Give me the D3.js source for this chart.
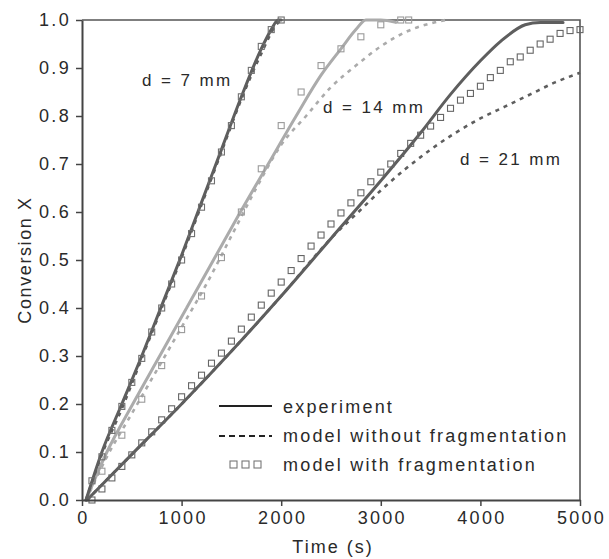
<!DOCTYPE html>
<html>
<head>
<meta charset="utf-8">
<script src="https://cdn.jsdelivr.net/npm/d3@7"></script>
<style>
  body { margin: 0; background: #fff; }
  text { font-family: "Liberation Sans", Arial, sans-serif; fill: #2a2a2a; }
</style>
</head>
<body>
<svg id="chart"></svg>
<script>
// tick labels
const xTicks = [0, 1000, 2000, 3000, 4000, 5000];
const yTicks = [0, 0.1, 0.2, 0.3, 0.4, 0.5, 0.6, 0.7, 0.8, 0.9, 1.0];

// experiment (solid lines), [time s, conversion X]
const exp7 = [[40,0],[200,0.1],[400,0.2],[600,0.3],[800,0.405],[1000,0.51],[1200,0.62],[1400,0.73],[1600,0.84],[1800,0.94],[1900,0.98],[1970,1.0],[2000,1.0]];
const exp14 = [[40,0],[250,0.1],[510,0.2],[780,0.3],[1050,0.4],[1320,0.5],[1590,0.6],[1870,0.7],[2150,0.8],[2400,0.885],[2600,0.94],[2750,0.98],[2850,1.0],[3000,1.0],[3150,0.995]];
const exp21 = [[50,0],[500,0.095],[1000,0.2],[1500,0.31],[2000,0.425],[2500,0.545],[3000,0.665],[3400,0.765],[3700,0.845],[4000,0.915],[4200,0.955],[4450,0.99],[4600,0.995],[4830,0.995]];

// model without fragmentation (dashed lines)
const noFrag7 = [[40,0],[200,0.095],[400,0.19],[600,0.295],[800,0.4],[1000,0.505],[1200,0.615],[1400,0.725],[1600,0.835],[1800,0.93],[1950,0.99],[2000,1.0]];
const noFrag14 = [[40,0],[250,0.09],[500,0.18],[750,0.27],[1000,0.36],[1250,0.45],[1500,0.55],[1750,0.65],[2000,0.74],[2250,0.8],[2500,0.86],[2750,0.905],[3000,0.945],[3250,0.975],[3500,0.993],[3650,1.0]];
const noFrag21 = [[50,0],[500,0.095],[1000,0.2],[1500,0.31],[2000,0.425],[2500,0.545],[2800,0.605],[3000,0.645],[3250,0.69],[3500,0.73],[3750,0.765],[4000,0.795],[4250,0.82],[4500,0.845],[4750,0.87],[5000,0.89]];

// model with fragmentation (square markers)
const frag7 = [[100,0.04],[200,0.09],[300,0.145],[400,0.195],[500,0.245],[600,0.295],[700,0.35],[800,0.4],[900,0.45],[1000,0.5],[1100,0.555],[1200,0.61],[1300,0.665],[1400,0.725],[1500,0.78],[1600,0.84],[1700,0.895],[1800,0.945],[1900,0.98],[2000,1.0]];
const frag14 = [[200,0.06],[400,0.135],[600,0.21],[800,0.28],[1000,0.355],[1200,0.425],[1400,0.505],[1600,0.6],[1800,0.69],[2000,0.78],[2200,0.85],[2400,0.905],[2600,0.94],[2800,0.965],[3000,0.99],[3200,1.0],[3280,1.0]];
const frag21 = [[100,0],[200,0.023],[300,0.046],[400,0.07],[500,0.094],[600,0.119],[700,0.142],[800,0.167],[900,0.19],[1000,0.215],[1100,0.238],[1200,0.26],[1300,0.285],[1400,0.306],[1500,0.331],[1600,0.356],[1700,0.381],[1800,0.406],[1900,0.431],[2000,0.454],[2100,0.478],[2200,0.503],[2300,0.529],[2400,0.552],[2500,0.575],[2600,0.598],[2700,0.619],[2800,0.64],[2900,0.663],[3000,0.683],[3100,0.7],[3200,0.722],[3300,0.743],[3400,0.76],[3500,0.779],[3600,0.797],[3700,0.816],[3800,0.833],[3900,0.847],[4000,0.862],[4100,0.88],[4200,0.895],[4300,0.913],[4400,0.923],[4500,0.937],[4600,0.95],[4700,0.96],[4800,0.972],[4900,0.978],[5000,0.98]];

const dark = "#5e5e5e";
const light = "#ababab";

const width = 609;
const height = 559;
const plotLeft = 82, plotRight = 580, plotTop = 20, plotBottom = 500;

const svg = d3.select("#chart").attr("width", width).attr("height", height);

const xScale = d3.scaleLinear().domain([0, 5000]).range([plotLeft, plotRight]);
const yScale = d3.scaleLinear().domain([0, 1]).range([plotBottom, plotTop]);

//Frame: top and right edges
svg.append("path")
    .attr("d", `M${plotLeft},${plotTop}H${plotRight}V${plotBottom}`)
    .attr("fill", "none")
    .attr("stroke", "#555")
    .attr("stroke-width", 1.6);

const line = d3.line()
    .x(d => xScale(d[0]))
    .y(d => yScale(d[1]))
    .curve(d3.curveMonotoneX);

const drawLine = (data, color, dashed, w) => {
    svg.append("path")
        .datum(data)
        .attr("d", line)
        .attr("fill", "none")
        .attr("stroke", color)
        .attr("stroke-width", w)
        .attr("stroke-linecap", dashed ? "butt" : "round")
        .attr("stroke-dasharray", dashed ? "4,5" : null);
};

const drawSquares = (data, color) => {
    svg.append("g")
        .selectAll("rect")
        .data(data)
        .enter()
        .append("rect")
        .attr("x", d => xScale(d[0]) - 3)
        .attr("y", d => yScale(d[1]) - 3)
        .attr("width", 6)
        .attr("height", 6)
        .attr("fill", "none")
        .attr("stroke", color)
        .attr("stroke-width", 1.1);
};

drawLine(noFrag14, light, true, 2.6);
drawLine(exp14, light, false, 3);
drawSquares(frag14, "#9a9a9a");

drawLine(noFrag7, dark, true, 2.6);
drawLine(exp7, dark, false, 3);
drawSquares(frag7, "#707070");

drawLine(noFrag21, dark, true, 2.6);
drawLine(exp21, dark, false, 3);
drawSquares(frag21, "#666");

//Axes
const xAxis = d3.axisBottom(xScale).tickValues(xTicks).tickFormat(d3.format("d")).tickSize(6).tickSizeOuter(0).tickPadding(5);
const yAxis = d3.axisLeft(yScale).tickValues(yTicks).tickFormat(d3.format(".1f")).tickSize(6).tickSizeOuter(0).tickPadding(5);

const gx = svg.append("g").attr("transform", `translate(0,${plotBottom})`).call(xAxis);
const gy = svg.append("g").attr("transform", `translate(${plotLeft},0)`).call(yAxis);

[gx, gy].forEach(g => {
    g.select(".domain").attr("stroke", "#444").attr("stroke-width", 2);
    g.selectAll(".tick line").attr("stroke", "#444").attr("stroke-width", 1.5);
    g.selectAll(".tick text")
        .style("font-size", "18px")
        .style("letter-spacing", "2.3px")
        .attr("fill", "#2a2a2a");
});
gx.selectAll(".tick text").attr("dx", "1px");

svg.append("text")
    .attr("x", (plotLeft + plotRight) / 2 + 2)
    .attr("y", 553)
    .attr("text-anchor", "middle")
    .style("font-size", "18px")
    .style("letter-spacing", "2px")
    .text("Time (s)");

svg.append("text")
    .attr("transform", `translate(31,${(plotTop + plotBottom) / 2}) rotate(-90)`)
    .attr("text-anchor", "middle")
    .style("font-size", "18px")
    .style("letter-spacing", "1.6px")
    .text("Conversion X");

//Curve labels
const labels = [["d = 7 mm", 142, 86], ["d = 14 mm", 323, 113], ["d = 21 mm", 460, 165]];
svg.selectAll(".lbl")
    .data(labels)
    .enter()
    .append("text")
    .attr("x", d => d[1])
    .attr("y", d => d[2])
    .style("font-size", "17px")
    .style("letter-spacing", "2.4px")
    .text(d => d[0]);

//Legend
const legend = svg.append("g").attr("transform", "translate(219,406)");
legend.append("line").attr("x1", 0).attr("x2", 53).attr("y1", 0).attr("y2", 0)
    .attr("stroke", "#222").attr("stroke-width", 2);
legend.append("line").attr("x1", 0).attr("x2", 53).attr("y1", 30).attr("y2", 30)
    .attr("stroke", "#222").attr("stroke-width", 2).attr("stroke-dasharray", "6,4");
legend.selectAll("rect")
    .data([14, 26, 38])
    .enter()
    .append("rect")
    .attr("x", d => d - 3)
    .attr("y", 55)
    .attr("width", 7)
    .attr("height", 7)
    .attr("fill", "none")
    .attr("stroke", "#777")
    .attr("stroke-width", 1.1);
legend.selectAll("text")
    .data(["experiment", "model without fragmentation", "model with fragmentation"])
    .enter()
    .append("text")
    .attr("x", 64)
    .attr("y", (d, i) => 7 + i * 29)
    .style("font-size", "18px")
    .style("letter-spacing", "2.2px")
    .text(d => d);
</script>
</body>
</html>
